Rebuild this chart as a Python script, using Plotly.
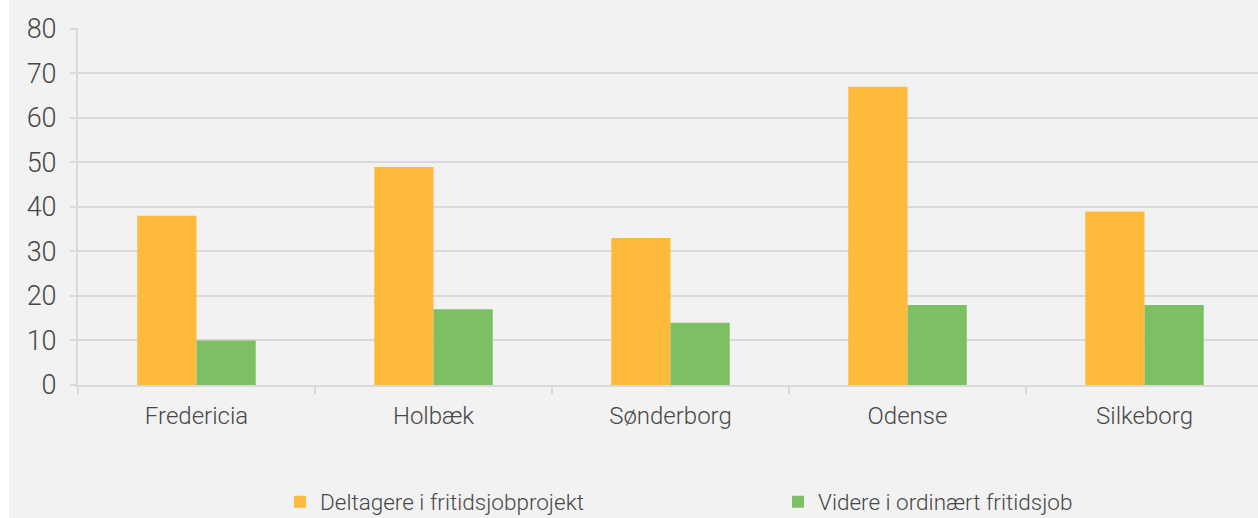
import plotly.graph_objects as go

categories = ["Fredericia", "Holbæk", "Sønderborg", "Odense", "Silkeborg"]
deltagere = [38, 49, 33, 67, 39]
videre = [10, 17, 14, 18, 18]
series_names = ["Deltagere i fritidsjobprojekt", "Videre i ordinært fritidsjob"]
y_ticks = [0, 10, 20, 30, 40, 50, 60, 70, 80]

W, H = 1258, 518
ml, mr, mt, mb = 78, 0, 28, 133
pw = W - ml - mr
ph = H - mt - mb

font_family = "Roboto, sans-serif"
text_color = "#474747"
grid_color = "#d9d9d9"

fig = go.Figure()
fig.add_trace(go.Bar(x=categories, y=deltagere, name=series_names[0],
                     marker=dict(color="#FEBA3A", line=dict(width=0))))
fig.add_trace(go.Bar(x=categories, y=videre, name=series_names[1],
                     marker=dict(color="#7CC063", line=dict(width=0))))

fig.update_layout(
    width=W, height=H,
    margin=dict(l=ml, r=mr, t=mt, b=mb, pad=0),
    paper_bgcolor="#f2f2f2",
    plot_bgcolor="#f2f2f2",
    barmode="group",
    bargap=0.5,
    bargroupgap=0,
    font=dict(family=font_family, size=24, color=text_color, weight=300),
    showlegend=True,
    legend=dict(
        orientation="h",
        xref="container", yref="container",
        x=280 / W, xanchor="left",
        y=(H - 502) / H, yanchor="middle",
        entrywidth=453, entrywidthmode="pixels",
        font=dict(family=font_family, size=22.5, color=text_color, weight=300),
        bgcolor="rgba(0,0,0,0)",
        itemclick=False,
    ),
    xaxis=dict(
        type="category",
        range=[-0.5, 4.5 - 5 / 237],
        showline=True, linecolor=grid_color, linewidth=2,
        ticks="outside", tickson="boundaries", ticklen=7, tickwidth=2, tickcolor=grid_color,
        showgrid=False,
        tickfont=dict(size=24, color=text_color),
        ticklabelstandoff=8,
    ),
    yaxis=dict(
        range=[0, 80.2],
        tickvals=y_ticks,
        showline=True, linecolor=grid_color, linewidth=2,
        ticks="outside", ticklen=6, tickwidth=2, tickcolor=grid_color,
        showgrid=True, gridcolor=grid_color, gridwidth=2,
        zeroline=False,
        tickfont=dict(size=27, color=text_color),
        ticklabelstandoff=8,
    ),
    shapes=[dict(type="rect", xref="paper", yref="paper",
                 xsizemode="pixel", xanchor=0, x0=-ml - 2, x1=-ml + 9,
                 y0=-2, y1=2, fillcolor="white", line=dict(width=0), layer="below")],
)

fig.write_html("out.html", config={"displayModeBar": False},
               post_script="document.body.style.margin='0';")
